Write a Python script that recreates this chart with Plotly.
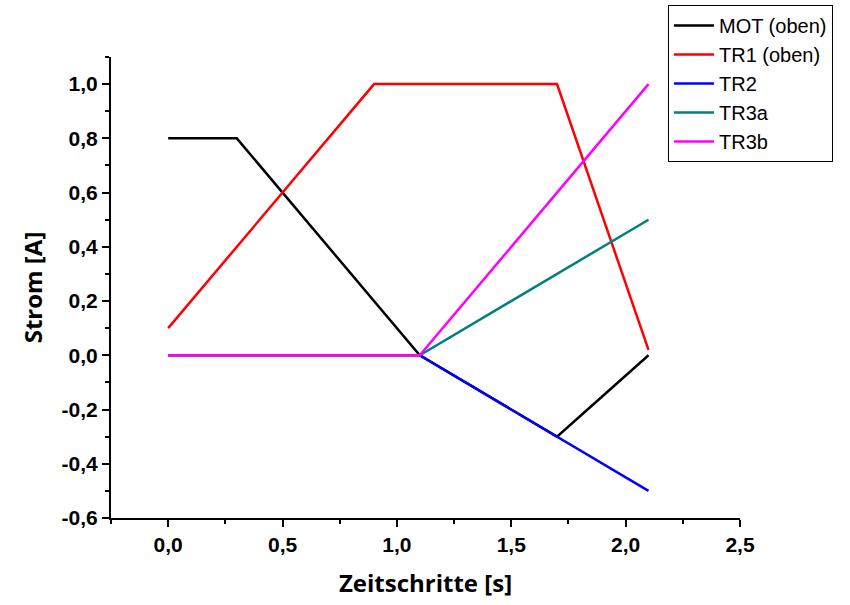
import plotly.graph_objects as go

# Data
mot_x = [0.0, 0.3, 1.1, 1.7, 2.1]
mot_y = [0.8, 0.8, 0.0, -0.3, 0.0]
tr1_x = [0.0, 0.9, 1.7, 2.1]
tr1_y = [0.1, 1.0, 1.0, 0.02]
tr2_x = [0.0, 1.1, 2.1]
tr2_y = [0.0, 0.0, -0.5]
tr3a_x = [0.0, 1.1, 2.1]
tr3a_y = [0.0, 0.0, 0.5]
tr3b_x = [0.0, 1.1, 2.1]
tr3b_y = [0.0, 0.0, 1.0]

x_tickvals = [0.0, 0.5, 1.0, 1.5, 2.0, 2.5]
x_ticktext = ["0,0", "0,5", "1,0", "1,5", "2,0", "2,5"]
y_tickvals = [-0.6, -0.4, -0.2, 0.0, 0.2, 0.4, 0.6, 0.8, 1.0]
y_ticktext = ["-0,6", "-0,4", "-0,2", "0,0", "0,2", "0,4", "0,6", "0,8", "1,0"]

series = [
    ("MOT (oben)", mot_x, mot_y, "#000000"),
    ("TR1 (oben)", tr1_x, tr1_y, "#FF0000"),
    ("TR2", tr2_x, tr2_y, "#0000FF"),
    ("TR3a", tr3a_x, tr3a_y, "#008080"),
    ("TR3b", tr3b_x, tr3b_y, "#FF00FF"),
]

fig = go.Figure()
for name, xs, ys, col in series:
    fig.add_trace(go.Scatter(x=xs, y=ys, name=name, mode="lines",
                             line=dict(color=col, width=2.5)))

font_fam = "Liberation Sans, Arial, sans-serif"
title_fam = "Open Sans, Liberation Sans, sans-serif"
fig.update_layout(
    width=850, height=605,
    margin=dict(l=111, r=110, t=57, b=87, autoexpand=False),
    paper_bgcolor="white", plot_bgcolor="white",
    font=dict(family=font_fam, color="black"),
    showlegend=True,
    legend=dict(x=0.8855, y=1.113, xanchor="left", yanchor="top",
                bgcolor="white", bordercolor="black", borderwidth=1,
                font=dict(size=20, family=font_fam, color="black"),
                tracegroupgap=0, itemwidth=40),
    xaxis=dict(range=[-0.25, 2.5], tickvals=x_tickvals, ticktext=x_ticktext,
               showgrid=False, zeroline=False, showline=True, linecolor="black", linewidth=2,
               ticks="outside", ticklen=7, tickwidth=2, tickcolor="black",
               minor=dict(dtick=0.25, tick0=0, ticks="outside", ticklen=4, tickwidth=2, tickcolor="black"),
               tickfont=dict(size=21, family=font_fam, weight="bold"),
               title=dict(text="Zeitschritte [s]", font=dict(size=24, family=title_fam, weight="bold"), standoff=20)),
    yaxis=dict(range=[-0.6, 1.1], tickvals=y_tickvals, ticktext=y_ticktext,
               showgrid=False, zeroline=False, showline=True, linecolor="black", linewidth=2,
               ticks="outside", ticklen=7, tickwidth=2, tickcolor="black",
               minor=dict(dtick=0.1, tick0=0, ticks="outside", ticklen=4, tickwidth=2, tickcolor="black"),
               tickfont=dict(size=21, family=font_fam, weight="bold"),
               title=dict(text="Strom [A]", font=dict(size=24, family=title_fam, weight="bold"), standoff=12)),
)

fig.write_html("out.html")
